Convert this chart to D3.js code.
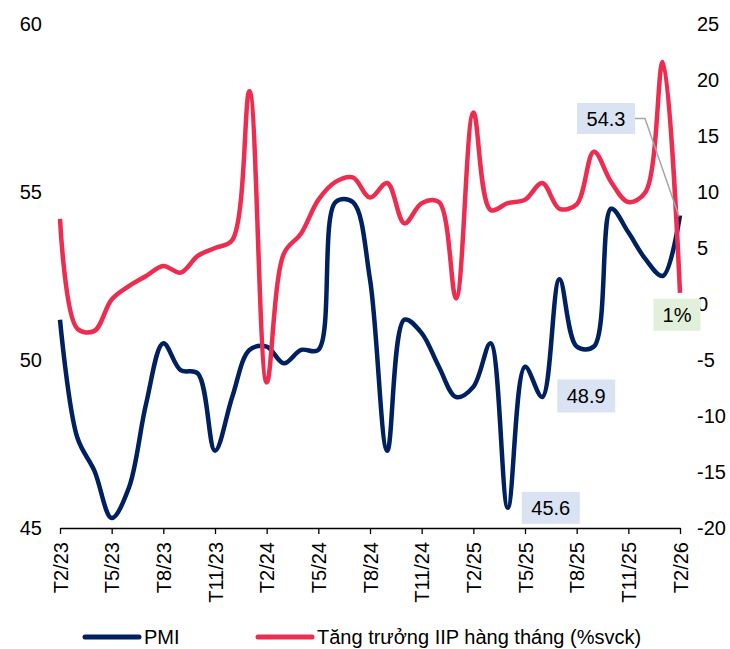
<!DOCTYPE html>
<html>
<head>
<meta charset="utf-8">
<script src="https://cdn.jsdelivr.net/npm/d3@7"></script>
<style>
  html, body { margin: 0; padding: 0; background: #fff; }
  svg { display: block; font-family: "Liberation Sans", Arial, sans-serif; }
</style>
</head>
<body>
<svg id="chart" width="730" height="649"></svg>
<script>
const months = ["T2/23","T3/23","T4/23","T5/23","T6/23","T7/23","T8/23","T9/23","T10/23","T11/23","T12/23",
  "T1/24","T2/24","T3/24","T4/24","T5/24","T6/24","T7/24","T8/24","T9/24","T10/24","T11/24","T12/24",
  "T1/25","T2/25","T3/25","T4/25","T5/25","T6/25","T7/25","T8/25","T9/25","T10/25","T11/25","T12/25",
  "T1/26","T2/26"];
const pmi = [51.2,47.7,46.7,45.3,46.2,48.7,50.5,49.7,49.6,47.3,48.9,
  50.3,50.4,49.9,50.3,50.3,54.7,54.7,52.4,47.3,51.2,50.8,49.8,
  48.9,49.2,50.5,45.6,49.8,48.9,52.4,50.4,50.4,54.5,53.8,53.0,
  52.5,54.3];
const iip = [7.6,-2.2,-2.4,0.4,1.6,2.5,3.4,2.8,4.3,5.0,5.7,
  19.0,-7.0,4.5,6.3,9.3,10.9,11.3,9.5,10.8,7.2,9.0,9.1,
  0.5,17.1,8.4,9.0,9.3,10.8,8.5,8.9,13.6,10.9,9.1,10.0,
  21.6,1.0];
const xTickLabels = ["T2/23","T5/23","T8/23","T11/23","T2/24","T5/24","T8/24","T11/24","T2/25","T5/25","T8/25","T11/25","T2/26"];
const leftTicks = [45,50,55,60];
const rightTicks = [-20,-15,-10,-5,0,5,10,15,20,25];
const seriesNames = ["PMI","Tăng trưởng IIP hàng tháng (%svck)"];
const pmiLabels = [["T4/25","45.6"],["T6/25","48.9"],["T2/26","54.3"]];
const iipLabels = [["T2/26","1%"]];

const navy = "#002060", red = "#ee2c50";
const svg = d3.select("#chart");
const pLeft = 60, pRight = 680, pTop = 24, pBottom = 528;

const x = d3.scalePoint().domain(months).range([pLeft, pRight]);
const yL = d3.scaleLinear().domain([45,60]).range([pBottom, pTop]);
const yR = d3.scaleLinear().domain([-20,25]).range([pBottom, pTop]);

const fs = 20;
svg.append("g").selectAll("text").data(leftTicks).join("text")
  .attr("x", pLeft - 18).attr("y", d => yL(d)).attr("dy", "0.35em")
  .attr("text-anchor", "end").attr("font-size", fs).attr("fill", "#000").text(d => d);
svg.append("g").selectAll("text").data(rightTicks).join("text")
  .attr("x", pRight + 17).attr("y", d => yR(d)).attr("dy", "0.35em")
  .attr("text-anchor", "start").attr("font-size", fs).attr("fill", "#000").text(d => d);

const xAxis = d3.axisBottom(x).tickValues(xTickLabels).tickSize(6).tickSizeOuter(0).tickFormat(d => d);
const gx = svg.append("g").attr("transform", `translate(0,${pBottom})`).call(xAxis);
gx.select(".domain").attr("stroke", "#000").attr("stroke-width", 1.3);
gx.selectAll(".tick line").attr("stroke", "#000").attr("stroke-width", 1.3);
gx.selectAll(".tick text")
  .attr("font-size", fs).attr("font-family", "Liberation Sans, Arial, sans-serif").attr("fill", "#000")
  .attr("transform", "rotate(-90)")
  .attr("text-anchor", "end").attr("x", -14).attr("y", 0).attr("dy", "0.35em");

const curve = d3.curveCatmullRom.alpha(0.5);
const linePMI = d3.line().x((d,i) => x(months[i])).y(d => yL(d)).curve(curve);
const lineIIP = d3.line().x((d,i) => x(months[i])).y(d => yR(d)).curve(curve);
svg.append("path").datum(pmi).attr("d", linePMI).attr("fill", "none")
  .attr("stroke", navy).attr("stroke-width", 4.5).attr("stroke-linejoin", "round");
svg.append("path").datum(iip).attr("d", lineIIP).attr("fill", "none")
  .attr("stroke", red).attr("stroke-width", 4.5).attr("stroke-linejoin", "round");

function label(cx, cy, w, h, text, fill) {
  svg.append("rect").attr("x", cx - w/2).attr("y", cy - h/2).attr("width", w).attr("height", h).attr("fill", fill);
  svg.append("text").attr("x", cx).attr("y", cy).attr("dy", "0.35em").attr("text-anchor", "middle")
    .attr("font-size", fs).attr("fill", "#000").text(text);
}
const idx = m => months.indexOf(m);
{ const m = pmiLabels[0][0]; label(x(m) + 43, yL(pmi[idx(m)]) + 0, 58, 32, pmiLabels[0][1], "#dae3f3"); }
{ const m = pmiLabels[1][0]; label(x(m) + 44, yL(pmi[idx(m)]) - 1, 58, 33, pmiLabels[1][1], "#dae3f3"); }
{ const m = pmiLabels[2][0]; const px = x(m), py = yL(pmi[idx(m)]);
  const cx = px - 74, cy = py - 97;
  svg.append("path").attr("d", `M${cx+29},${cy} L${cx+39},${cy} L${px-1},${py+1}`)
    .attr("fill", "none").attr("stroke", "#a6a6a6").attr("stroke-width", 1.5);
  label(cx, cy, 58, 31, pmiLabels[2][1], "#dae3f3"); }
{ const m = iipLabels[0][0]; label(x(m) - 3, yR(iip[idx(m)]) + 22, 47, 32, iipLabels[0][1], "#e2efda"); }

const lg = svg.append("g");
[[85, 139, 144, navy, seriesNames[0]], [258, 312, 317, red, seriesNames[1]]].forEach(([x1, x2, tx, c, t]) => {
  lg.append("line").attr("x1", x1).attr("x2", x2).attr("y1", 637).attr("y2", 637)
    .attr("stroke", c).attr("stroke-width", 5).attr("stroke-linecap", "round");
  lg.append("text").attr("x", tx).attr("y", 637).attr("dy", "0.35em").attr("font-size", fs).attr("fill", "#000").text(t);
});
</script>
</body>
</html>
